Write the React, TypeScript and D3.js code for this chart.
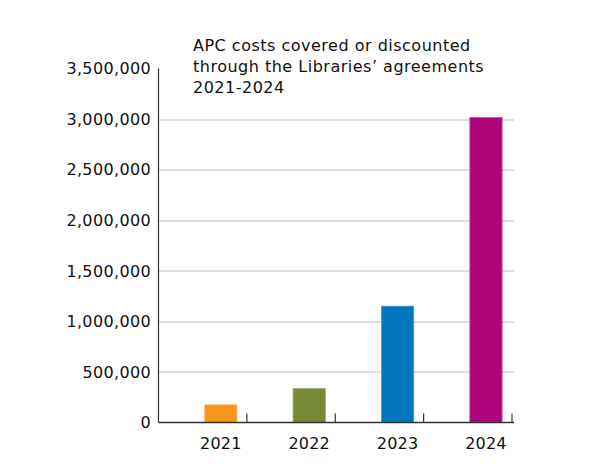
import { useEffect, useRef } from "react";
import * as d3 from "d3";

// Chart data
const years = ["2021", "2022", "2023", "2024"];
const apcCosts = [175000, 335000, 1150000, 3015000];
const barColors = ["#F7971E", "#788A3A", "#0076BE", "#B0047A"];
const barStrokes = ["#FBB867", "#9AAA62", "#3F9BD6", "#C94C9F"];
const yTicks = [0, 500000, 1000000, 1500000, 2000000, 2500000, 3000000, 3500000];
const titleLines = [
  "APC costs covered or discounted",
  "through the Libraries\u2019 agreements",
  "2021-2024",
];

const WIDTH = 600;
const HEIGHT = 474;
const MARGIN = { top: 68.5, right: 88, bottom: 51.5, left: 158.5 };
const FONT = "Verdana, 'DejaVu Sans', sans-serif";

export default function App() {
  const svgRef = useRef<SVGSVGElement>(null);

  useEffect(() => {
    if (!svgRef.current) return;
    const svg = d3.select(svgRef.current);
    svg.selectAll("*").remove();

    const innerW = WIDTH - MARGIN.left - MARGIN.right;
    const innerH = HEIGHT - MARGIN.top - MARGIN.bottom;

    const g = svg
      .append("g")
      .attr("transform", `translate(${MARGIN.left},${MARGIN.top})`);

    const x = d3.scaleBand<string>().domain(years).range([0, innerW]).padding(0);
    const y = d3.scaleLinear().domain([0, 3500000]).range([innerH, 0]);

    // bars sit in the right half of each band
    const barOffset = x.bandwidth() * 0.523;
    const barWidth = x.bandwidth() * 0.365;

    // gridlines (skip 0 and top)
    g.selectAll(".grid")
      .data(yTicks.filter((t) => t > 0 && t < 3500000))
      .enter()
      .append("line")
      .attr("x1", 0)
      .attr("x2", innerW + 2)
      .attr("y1", (d) => Math.round(y(d)) + 0.5)
      .attr("y2", (d) => Math.round(y(d)) + 0.5)
      .attr("stroke", "#BBBBBB")
      .attr("stroke-width", 1);

    // bars
    g.selectAll(".bar")
      .data(years)
      .enter()
      .append("rect")
      .attr("x", (d) => (x(d) as number) + barOffset)
      .attr("y", (d, i) => y(apcCosts[i]))
      .attr("width", barWidth)
      .attr("height", (d, i) => innerH - y(apcCosts[i]))
      .attr("fill", (d, i) => barColors[i])
      .attr("stroke", (d, i) => barStrokes[i])
      .attr("stroke-width", 0.8);

    // y axis line
    g.append("line")
      .attr("x1", 0)
      .attr("x2", 0)
      .attr("y1", 0)
      .attr("y2", innerH)
      .attr("stroke", "#333")
      .attr("stroke-width", 1.2);

    // x axis line
    g.append("line")
      .attr("x1", 0)
      .attr("x2", innerW + 2)
      .attr("y1", innerH)
      .attr("y2", innerH)
      .attr("stroke", "#333")
      .attr("stroke-width", 1.5);

    // x ticks at band boundaries, pointing up
    g.selectAll(".xtick")
      .data(years)
      .enter()
      .append("line")
      .attr("x1", (d) => (x(d) as number) + x.bandwidth())
      .attr("x2", (d) => (x(d) as number) + x.bandwidth())
      .attr("y1", innerH)
      .attr("y2", innerH - 9)
      .attr("stroke", "#333")
      .attr("stroke-width", 1.2);

    // x labels centred under bars
    g.selectAll(".xlabel")
      .data(years)
      .enter()
      .append("text")
      .attr("x", (d) => (x(d) as number) + barOffset + barWidth / 2)
      .attr("y", innerH + 26.5)
      .attr("text-anchor", "middle")
      .attr("font-family", FONT)
      .attr("font-size", "16px")
      .attr("letter-spacing", "0.2px")
      .attr("fill", "#111")
      .text((d) => d);

    // y labels
    const fmt = d3.format(",");
    g.selectAll(".ylabel")
      .data(yTicks)
      .enter()
      .append("text")
      .attr("x", -7.5)
      .attr("y", (d) => y(d))
      .attr("dy", "0.36em")
      .attr("text-anchor", "end")
      .attr("font-family", FONT)
      .attr("font-size", "16px")
      .attr("letter-spacing", "0.35px")
      .attr("fill", "#111")
      .text((d) => fmt(d));

    // title
    svg
      .append("text")
      .attr("font-family", FONT)
      .attr("font-size", "16px")
      .attr("letter-spacing", "0.5px")
      .attr("fill", "#111")
      .selectAll("tspan")
      .data(titleLines)
      .enter()
      .append("tspan")
      .attr("x", 193)
      .attr("y", (d, i) => 51 + i * 21)
      .text((d) => d);
  }, []);

  return (
    <svg
      ref={svgRef}
      width={WIDTH}
      height={HEIGHT}
      style={{ position: "absolute", left: 0, top: 0, background: "#fff" }}
    />
  );
}
